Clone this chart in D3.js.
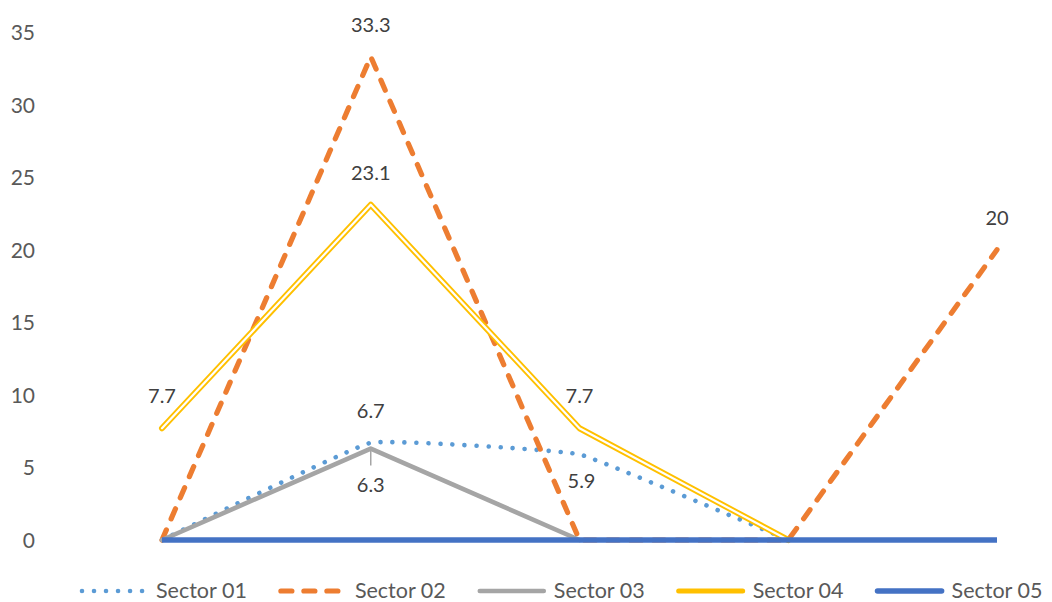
<!DOCTYPE html>
<html>
<head>
<meta charset="utf-8">
<script src="https://cdn.jsdelivr.net/npm/d3@7"></script>
<style>
  html, body { margin: 0; padding: 0; background: #ffffff; }
  svg { display: block; }
  text { font-family: Lato, "Open Sans", sans-serif; }
</style>
</head>
<body>
<svg id="chart" width="1052" height="602"></svg>
<script>
// Category positions along the horizontal axis (no labels are shown)
const categories = ["P1", "P2", "P3", "P4", "P5"];

// Series values (null = no point)
const sector01 = [0, 6.7, 5.9, 0, null];
const sector02 = [0, 33.3, 0, 0, 20];
const sector03 = [0, 6.3, 0, null, null];
const sector04 = [7.7, 23.1, 7.7, 0, null];
const sector05 = [0, 0, 0, 0, 0];

const seriesNames = ["Sector 01", "Sector 02", "Sector 03", "Sector 04", "Sector 05"];

// Values that carry a data label, and where the label sits
const labels01 = [null, "above", "below", null, null];
const labels02 = [null, "above", null, null, "above"];
const labels03 = [null, "below-leader", null, null, null];
const labels04 = ["above", "above", "above", null, null];
const labels05 = [null, null, null, null, null];

const yTicks = [0, 5, 10, 15, 20, 25, 30, 35];

const svg = d3.select("#chart");

const x = d3.scalePoint().domain(categories).range([162, 997]);
const y = d3.scaleLinear().domain([0, 35]).range([540, 32]);

// Y axis: labels only, no line or ticks
const yAxis = d3.axisLeft(y).tickValues(yTicks).tickSize(0).tickPadding(0);
const gy = svg.append("g").attr("transform", "translate(35,0)").call(yAxis);
gy.select(".domain").remove();
gy.selectAll("text")
  .attr("fill", "#595959")
  .style("font-size", "21px")
  .style("font-family", "Lato, 'Open Sans', sans-serif")
  .attr("dy", "0.36em");

const styles = [
  { color: "#5B9BD5", width: 4.6, dash: "0.01,12", cap: "round", curve: d3.curveCardinal.tension(0.75) },
  { color: "#ED7D31", width: 5.2, dash: "11,12", cap: "round", curve: d3.curveLinear },
  { color: "#A5A5A5", width: 4.6, dash: null, cap: "round", curve: d3.curveLinear },
  { color: "#FFC000", width: 6, dash: null, cap: "round", curve: d3.curveLinear, double: true },
  { color: "#4472C4", width: 5.6, dash: null, cap: "butt", curve: d3.curveLinear }
];

const allSeries = [sector01, sector02, sector03, sector04, sector05];
const allLabels = [labels01, labels02, labels03, labels04, labels05];

const plot = svg.append("g");

allSeries.forEach((vals, si) => {
  const st = styles[si];
  const pts = vals.map((v, i) => ({ c: categories[i], v }));
  const line = d3.line()
    .defined(d => d.v !== null)
    .x(d => x(d.c))
    .y(d => y(d.v))
    .curve(st.curve);
  const p = plot.append("path")
    .attr("d", line(pts))
    .attr("fill", "none")
    .attr("stroke", st.color)
    .attr("stroke-width", st.width)
    .attr("stroke-linecap", st.cap)
    .attr("stroke-linejoin", "round");
  if (st.dash) p.attr("stroke-dasharray", st.dash);
  if (st.double) {
    plot.append("path")
      .attr("d", line(pts))
      .attr("fill", "none")
      .attr("stroke", "#ffffff")
      .attr("stroke-width", 2.2)
      .attr("stroke-linecap", "round")
      .attr("stroke-linejoin", "round");
  }
});

// Data labels
const labelLayer = svg.append("g");
allSeries.forEach((vals, si) => {
  vals.forEach((v, i) => {
    const pos = allLabels[si][i];
    if (!pos || v === null) return;
    const px = x(categories[i]);
    const py = y(v);
    let cy;
    if (pos === "above") cy = py - 32;
    else if (pos === "below") cy = py + 26;
    else {
      cy = py + 36;
      labelLayer.append("line")
        .attr("x1", px).attr("x2", px)
        .attr("y1", py).attr("y2", py + 17)
        .attr("stroke", "#A5A5A5")
        .attr("stroke-width", 1.5);
    }
    labelLayer.append("text")
      .attr("x", px + (pos === "below" ? 2 : 0))
      .attr("y", cy)
      .attr("dy", "0.36em")
      .attr("text-anchor", "middle")
      .attr("fill", "#404040")
      .style("font-size", "20px")
      .text(d3.format(".1~f")(v));
  });
});

// Legend
const legend = svg.append("g").attr("transform", "translate(0,590)");
let lx = 80;
seriesNames.forEach((name, si) => {
  const st = styles[si];
  const g = legend.append("g");
  const symLen = 66;
  const seg = g.append("line")
    .attr("x1", lx + 2).attr("x2", lx + symLen)
    .attr("y1", 1).attr("y2", 1)
    .attr("stroke", st.color)
    .attr("stroke-width", st.double ? 5 : st.width)
    .attr("stroke-linecap", "round");
  if (st.dash) seg.attr("stroke-dasharray", st.dash);
  const t = g.append("text")
    .attr("x", lx + symLen + 10)
    .attr("y", 0)
    .attr("dy", "0.36em")
    .attr("fill", "#595959")
    .style("font-size", "21.5px")
    .text(name);
  lx += symLen + 10 + t.node().getComputedTextLength() + 32;
});
</script>
</body>
</html>
